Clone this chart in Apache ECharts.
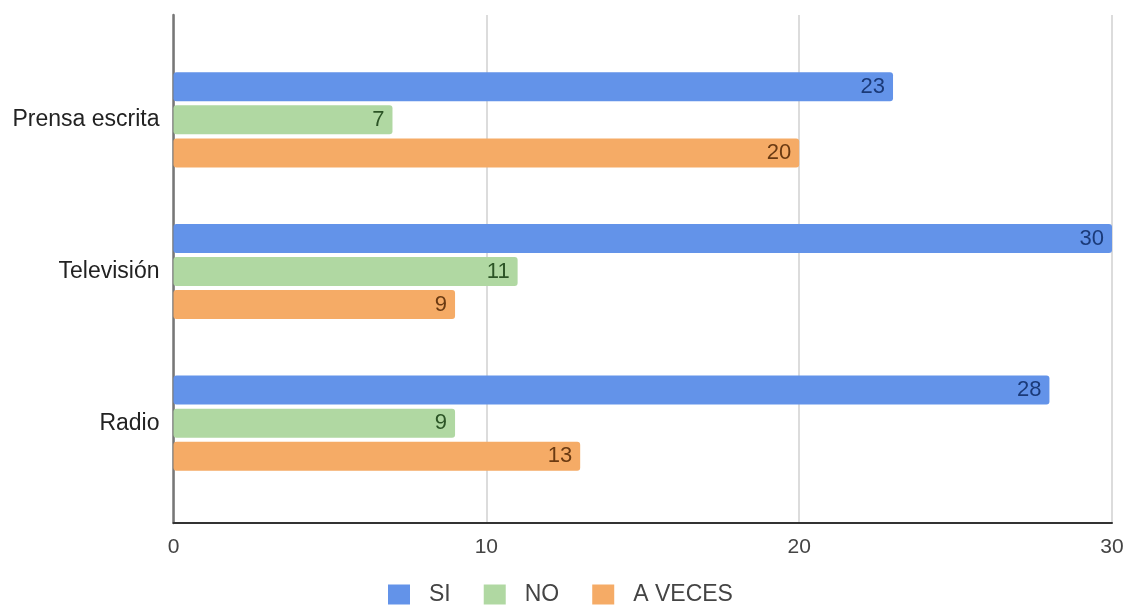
<!DOCTYPE html>
<html>
<head>
<meta charset="utf-8">
<script src="https://cdn.jsdelivr.net/npm/echarts@6/dist/echarts.min.js"></script>
<style>html,body{margin:0;padding:0;background:#fff}#c{width:1131px;height:605px}</style>
</head>
<body>
<div id="c"></div>
<script>
const categories = ['Prensa escrita', 'Televisión', 'Radio'];
const seriesNames = ['SI', 'NO', 'A VECES'];
const siValues = [23, 30, 28];
const noValues = [7, 11, 9];
const aVecesValues = [20, 9, 13];
const xTicks = [0, 10, 20, 30];

const FONT = 'Liberation Sans, Arial, sans-serif';
const colors = ['#6393e9', '#b0d8a2', '#f5ab66'];
const labelColors = ['#1b3a78', '#2c5426', '#6a3a12'];
const values = [siValues, noValues, aVecesValues];

const chart = echarts.init(document.getElementById('c'));
chart.setOption({
  animation: false,
  color: colors,
  grid: [
    {left: 173.5, right: 19, top: 15, bottom: 82, containLabel: false},
    {left: 173.5, right: 19, top: 44, bottom: 106, containLabel: false}
  ],
  xAxis: [
    {
      gridIndex: 0, type: 'value', min: xTicks[0], max: xTicks[xTicks.length - 1], interval: 10,
      axisLine: {show: true, lineStyle: {color: '#333', width: 2}},
      axisTick: {show: false},
      axisLabel: {color: '#444', fontSize: 21, fontFamily: FONT, margin: 14},
      splitLine: {show: true, lineStyle: {color: '#dcdcdc', width: 2}}
    },
    {
      gridIndex: 1, type: 'value', min: xTicks[0], max: xTicks[xTicks.length - 1], interval: 10,
      show: false
    }
  ],
  yAxis: [
    {
      gridIndex: 0, type: 'value', min: 0, max: 1,
      axisLine: {show: true, lineStyle: {color: '#777', width: 2.5}},
      axisTick: {show: false}, axisLabel: {show: false}, splitLine: {show: false}
    },
    {
      gridIndex: 1, type: 'category', data: categories, inverse: true,
      axisLine: {show: false}, axisTick: {show: false}, splitLine: {show: false},
      axisLabel: {color: '#222', fontSize: 23, fontFamily: FONT, margin: 14}
    }
  ],
  legend: {
    data: seriesNames,
    left: 383, top: 578,
    itemWidth: 22, itemHeight: 20, itemGap: 33,
    icon: 'rect',
    textStyle: {color: '#444', fontSize: 23, fontFamily: FONT, padding: [0, 0, 0, 14]}
  },
  series: seriesNames.map((name, i) => ({
    name: name,
    type: 'bar',
    xAxisIndex: 1, yAxisIndex: 1,
    data: values[i],
    barWidth: 29,
    barGap: '14%',
    itemStyle: {color: colors[i], borderRadius: 3},
    label: {
      show: true, position: 'insideRight', distance: 8,
      color: labelColors[i], fontSize: 22, fontFamily: FONT
    }
  }))
});
</script>
</body>
</html>
